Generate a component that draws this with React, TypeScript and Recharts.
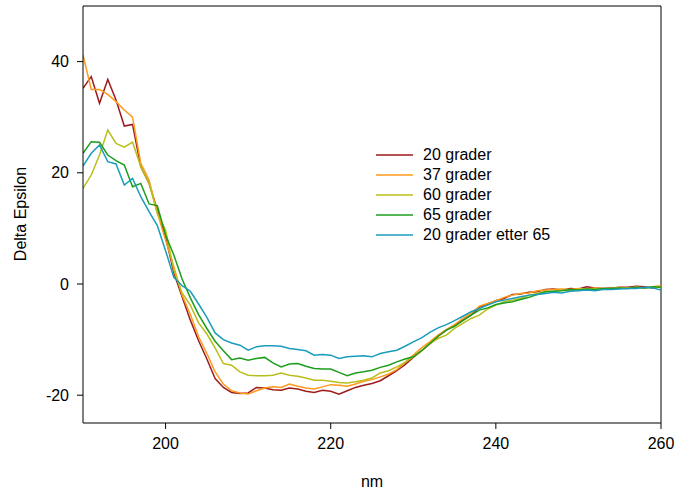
import React from "react";
import { LineChart, Line, XAxis, YAxis, ReferenceLine, Label } from "recharts";

const wavelengths: number[] = [
  190, 191, 192, 193, 194, 195, 196, 197, 198, 199, 200, 201, 202, 203, 204, 205, 206, 207, 208, 209,
  210, 211, 212, 213, 214, 215, 216, 217, 218, 219, 220, 221, 222, 223, 224, 225, 226, 227, 228, 229,
  230, 231, 232, 233, 234, 235, 236, 237, 238, 239, 240, 241, 242, 243, 244, 245, 246, 247, 248, 249,
  250, 251, 252, 253, 254, 255, 256, 257, 258, 259, 260,
];

const g20: number[] = [
  35.2, 37.3, 32.5, 36.8, 33.1, 28.4, 28.7, 21.1, 18.1, 13.3, 8.5, 2.0, -2.3, -6.5, -10.2, -13.5, -17.0, -18.6, -19.5, -19.7,
  -19.6, -18.6, -18.7, -19.0, -19.1, -18.7, -18.9, -19.3, -19.5, -19.1, -19.3, -19.8, -19.2, -18.6, -18.2, -17.9, -17.4, -16.5, -15.6, -14.5,
  -13.2, -12.0, -10.8, -9.4, -8.3, -7.4, -6.5, -5.6, -4.2, -3.6, -3.0, -2.6, -1.9, -1.8, -1.5, -1.4, -1.0, -0.9, -1.1, -0.8,
  -0.9, -0.5, -0.7, -0.8, -0.7, -0.6, -0.6, -0.4, -0.5, -0.7, -0.5,
];

const g37: number[] = [
  41.2, 35.0, 35.0, 34.1, 32.8, 31.3, 30.0, 21.7, 18.7, 12.8, 7.9, 3.1, -2.0, -5.5, -9.5, -12.5, -15.8, -18.0, -19.2, -19.6,
  -19.8, -19.2, -18.7, -18.5, -18.6, -18.0, -18.4, -18.7, -18.9, -18.5, -18.1, -18.2, -18.4, -18.0, -17.5, -17.2, -16.7, -16.2, -15.4, -14.1,
  -12.8, -11.5, -10.4, -9.2, -8.2, -7.3, -6.2, -5.3, -4.0, -3.5, -3.0, -2.4, -2.0, -1.7, -1.6, -1.2, -1.1, -1.0, -0.9, -1.0,
  -0.8, -0.9, -0.7, -0.8, -0.8, -0.6, -0.7, -0.6, -0.7, -0.5, -0.3,
];

const g60: number[] = [
  17.2, 19.6, 23.2, 27.7, 25.3, 24.6, 25.5, 21.1, 18.1, 12.7, 9.7, 2.5, -1.6, -3.8, -7.0, -9.0, -11.5, -14.3, -14.6, -15.8,
  -16.4, -16.5, -16.5, -16.4, -16.0, -16.4, -16.6, -16.9, -17.3, -17.3, -17.5, -17.7, -17.8, -17.6, -17.3, -16.9, -16.0, -15.6, -14.9, -14.1,
  -13.1, -12.1, -10.7, -9.8, -9.2, -8.0, -7.1, -6.2, -5.6, -4.5, -3.8, -3.2, -2.9, -2.6, -2.0, -1.7, -1.4, -1.3, -1.1, -1.2,
  -0.9, -1.0, -0.8, -0.9, -0.8, -0.7, -0.8, -0.6, -0.7, -0.6, -0.6,
];

const g65: number[] = [
  23.5, 25.6, 25.5, 23.2, 22.2, 21.4, 17.5, 18.1, 14.4, 14.1, 8.8, 5.2, 0.9, -2.5, -5.5, -8.0, -10.3, -12.0, -13.6, -13.3,
  -13.7, -13.4, -13.2, -14.2, -14.9, -14.4, -14.3, -14.8, -15.2, -15.3, -15.3, -15.9, -16.5, -16.0, -15.8, -15.5, -15.0, -14.6, -14.0, -13.5,
  -13.1, -12.0, -10.7, -9.4, -8.3, -7.6, -6.6, -5.6, -4.7, -4.3, -3.7, -3.4, -3.2, -2.8, -2.4, -1.9, -1.4, -1.3, -1.2, -1.0,
  -1.1, -0.9, -1.0, -0.8, -0.8, -0.7, -0.8, -0.6, -0.7, -0.5, -0.6,
];

const g20after65: number[] = [
  21.2, 23.5, 25.0, 22.0, 21.6, 17.8, 19.0, 15.7, 13.0, 10.5, 6.0, 1.2, -0.3, -1.3, -3.6, -6.0, -8.8, -10.0, -10.6, -11.0,
  -11.9, -11.3, -11.1, -11.1, -11.2, -11.6, -11.8, -12.0, -12.8, -12.7, -12.8, -13.4, -13.1, -13.0, -12.9, -13.1, -12.5, -12.2, -11.9, -11.2,
  -10.4, -9.7, -8.7, -7.9, -7.3, -6.6, -5.8, -5.0, -4.4, -3.8, -3.2, -2.9, -2.6, -2.3, -2.0, -1.9, -1.7, -1.5, -1.6, -1.3,
  -1.2, -1.1, -1.2, -1.0, -1.0, -0.9, -0.8, -0.8, -0.6, -0.7, -1.1,
];

const seriesNames: string[] = ["20 grader", "37 grader", "60 grader", "65 grader", "20 grader etter 65"];
const seriesKeys: string[] = ["g20", "g37", "g60", "g65", "g20after65"];
const seriesColors: string[] = ["#9e1b1b", "#ff9a1c", "#b8bf1a", "#1c9e1c", "#1a9cbc"];
const xTicks: number[] = [200, 220, 240, 260];
const yTicks: number[] = [-20, 0, 20, 40];

const data = wavelengths.map((w, i) => ({
  nm: w,
  g20: g20[i],
  g37: g37[i],
  g60: g60[i],
  g65: g65[i],
  g20after65: g20after65[i],
}));

const FONT = "Liberation Sans, Arial, sans-serif";

export default function App() {
  return (
    <div style={{ position: "absolute", left: 0, top: 0, width: 676, height: 490, background: "#fff" }}>
      <LineChart width={676} height={490} data={data} margin={{ top: 6, right: 15, left: 0, bottom: 0 }}>
        <XAxis
          dataKey="nm"
          type="number"
          domain={[190, 260]}
          ticks={xTicks}
          allowDataOverflow
          stroke="#000"
          tickSize={6}
          tickMargin={9}
          height={67}
          tick={{ fill: "#000", fontSize: 16, fontFamily: FONT }}
        >
          <Label
            content={() => (
              <text x={372} y={481} textAnchor="middle" dominantBaseline="central" fontSize={16} fontFamily={FONT} fill="#000">
                nm
              </text>
            )}
          />
        </XAxis>
        <YAxis
          type="number"
          domain={[-25, 50]}
          ticks={yTicks}
          allowDataOverflow
          stroke="#000"
          tickSize={6}
          tickMargin={8}
          width={83}
          tick={{ fill: "#000", fontSize: 16, fontFamily: FONT }}
        >
          <Label
            content={() => (
              <text
                x={20}
                y={214}
                transform="rotate(-90, 20, 214)"
                textAnchor="middle"
                dominantBaseline="central"
                fontSize={16}
                fontFamily={FONT}
                fill="#000"
              >
                Delta Epsilon
              </text>
            )}
          />
        </YAxis>
        <ReferenceLine y={50} stroke="#000" strokeWidth={1} />
        <ReferenceLine x={260} stroke="#000" strokeWidth={1} />
        {seriesKeys.map((k, i) => (
          <Line
            key={k}
            dataKey={k}
            name={seriesNames[i]}
            stroke={seriesColors[i]}
            strokeWidth={1.5}
            dot={false}
            type="linear"
            isAnimationActive={false}
          />
        ))}
      </LineChart>
      <div style={{ position: "absolute", left: 376, top: 145, fontFamily: FONT, fontSize: 16, color: "#000", lineHeight: "20px" }}>
        {seriesNames.map((n, i) => (
          <div key={n} style={{ display: "flex", alignItems: "center", height: 20 }}>
            <svg width={37} height={4} style={{ marginRight: 10, display: "block" }}>
              <line x1={0} y1={2} x2={37} y2={2} stroke={seriesColors[i]} strokeWidth={1.5} />
            </svg>
            <span>{n}</span>
          </div>
        ))}
      </div>
    </div>
  );
}
